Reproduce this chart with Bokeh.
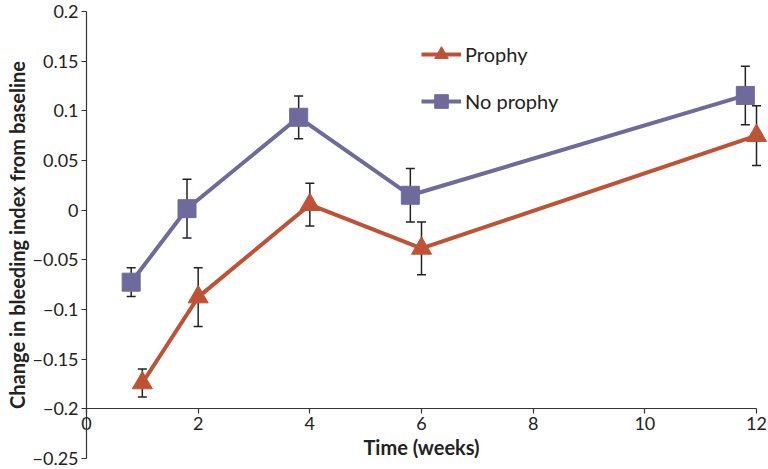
from bokeh.plotting import figure
from bokeh.models import (ColumnDataSource, Whisker, TeeHead, Legend, LegendItem,
                          FixedTicker, Range1d, LinearAxis)
from bokeh.embed import file_html
from bokeh.resources import INLINE

# ---- data ----
weeks_noprophy = [0.8, 1.8, 3.8, 5.8, 11.8]
change_noprophy = [-0.0725, 0.0015, 0.0935, 0.015, 0.1155]
err_noprophy = [0.0145, 0.0295, 0.0215, 0.027, 0.0295]

weeks_prophy = [1, 2, 4, 6, 12]
change_prophy = [-0.174, -0.0875, 0.0055, -0.0385, 0.075]
err_prophy = [0.014, 0.0295, 0.0215, 0.0265, 0.030]

x_ticks = [0, 2, 4, 6, 8, 10, 12]
y_ticks = [-0.25, -0.2, -0.15, -0.1, -0.05, 0, 0.05, 0.1, 0.15, 0.2]
y_tick_labels = ["\u22120.25", "\u22120.2", "\u22120.15", "\u22120.1", "\u22120.05",
                 "0", "0.05", "0.1", "0.15", "0.2"]

series_names = ["Prophy", "No prophy"]

FONT = "Lato"
RED = "#BF5236"
PURPLE = "#6E6A9C"
AX = "#333333"
TXT = "#222222"

p = figure(width=768, height=469, output_backend="svg", toolbar_location=None,
           x_range=Range1d(-1.039, 12.215), y_range=Range1d(-0.26107, 0.21107),
           min_border_left=28, min_border_right=0, min_border_top=0, min_border_bottom=0)
p.outline_line_color = None
p.grid.visible = False
p.background_fill_color = "white"
p.border_fill_color = "white"

src_no = ColumnDataSource(dict(x=weeks_noprophy, y=change_noprophy,
                               lo=[a - b for a, b in zip(change_noprophy, err_noprophy)],
                               hi=[a + b for a, b in zip(change_noprophy, err_noprophy)]))
src_pr = ColumnDataSource(dict(x=weeks_prophy, y=change_prophy,
                               lo=[a - b for a, b in zip(change_prophy, err_prophy)],
                               hi=[a + b for a, b in zip(change_prophy, err_prophy)]))

l_no = p.line("x", "y", source=src_no, line_color=PURPLE, line_width=4)
l_pr = p.line("x", "y", source=src_pr, line_color=RED, line_width=4)

for src in (src_no, src_pr):
    w = Whisker(base="x", upper="hi", lower="lo", source=src, line_color=TXT,
                line_width=1.5,
                upper_head=TeeHead(size=9, line_color=TXT, line_width=1.5),
                lower_head=TeeHead(size=9, line_color=TXT, line_width=1.5))
    p.add_layout(w)

s_no = p.scatter("x", "y", source=src_no, marker="square", size=18,
                 fill_color=PURPLE, line_color=PURPLE)
s_pr = p.scatter("x", "y", source=src_pr, marker="triangle", size=20,
                 fill_color=RED, line_color=RED)

# x axis crossing at y = -0.2
xa = p.xaxis[0]
xa.fixed_location = -0.2
xa.bounds = (0, 12)
xa.ticker = FixedTicker(ticks=x_ticks)
xa.axis_label = "Time (weeks)"

# left axis only carries the title
ta = p.yaxis[0]
ta.ticker = FixedTicker(ticks=[])
ta.axis_line_color = None
ta.major_tick_line_color = None
ta.minor_tick_line_color = None
ta.major_tick_out = 0
ta.major_label_standoff = 0
ta.axis_label_standoff = 0
ta.axis_label = "Change in bleeding index from baseline"

# y axis with ticks at x = 0
ya = LinearAxis(fixed_location=0, bounds=(-0.25, 0.2), ticker=FixedTicker(ticks=y_ticks))
ya.major_label_overrides = {t: l for t, l in zip(y_ticks, y_tick_labels)}
p.add_layout(ya, "left")

for ax in (xa, ya, ta):
    ax.major_label_text_font = FONT
    ax.major_label_text_font_size = "18px"
    ax.major_label_text_color = TXT
    ax.axis_label_text_font = FONT
    ax.axis_label_text_font_size = "20px"
    ax.axis_label_text_font_style = "bold"
    ax.axis_label_text_color = TXT
for ax in (xa, ya):
    ax.axis_line_color = AX
    ax.axis_line_width = 1.2
    ax.major_tick_line_color = AX
    ax.major_tick_line_width = 1.2
    ax.major_tick_in = 0
    ax.major_tick_out = 5
    ax.minor_tick_line_color = None
xa.major_label_standoff = 3
xa.axis_label_standoff = 2
ya.major_label_standoff = 3

legend = Legend(items=[LegendItem(label=series_names[0], renderers=[l_pr, s_pr]),
                       LegendItem(label=series_names[1], renderers=[l_no, s_no])],
                location=(393, 351), orientation="vertical",
                glyph_width=40, glyph_height=34, label_height=34, spacing=13,
                padding=0, margin=0, label_standoff=4,
                border_line_color=None, background_fill_alpha=0,
                label_text_font=FONT, label_text_font_size="20px",
                label_text_color=TXT)
p.add_layout(legend)

open("out.html", "w").write(file_html(p, INLINE))
